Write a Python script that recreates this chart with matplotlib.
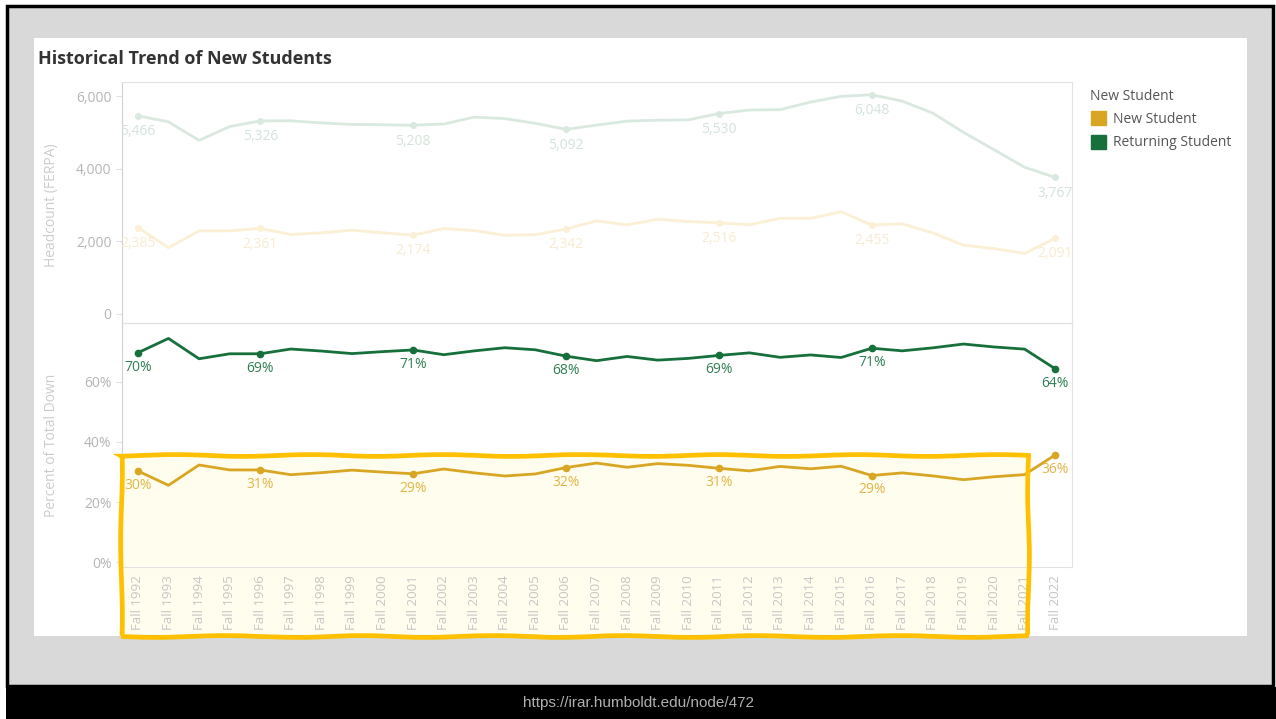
import numpy as np
import matplotlib.pyplot as plt
from matplotlib.patches import Rectangle, Patch

# dati
years = ['Fall %d' % y for y in range(1992, 2023)]
returning = [5466, 5300, 4790, 5170, 5326, 5330, 5270, 5230, 5220, 5208, 5240,
             5430, 5390, 5260, 5092, 5210, 5320, 5346, 5355, 5530, 5627, 5636,
             5846, 6004, 6048, 5873, 5539, 5013, 4531, 4048, 3767]
new = [2385, 1826, 2293, 2293, 2361, 2192, 2238, 2312, 2238, 2174, 2357,
       2300, 2171, 2190, 2342, 2567, 2459, 2612, 2549, 2516, 2459, 2639,
       2639, 2819, 2455, 2486, 2234, 1900, 1802, 1667, 2091]
label_idx = [0, 4, 9, 14, 19, 24, 30]

W, H = 1276, 719
GREEN = '#17703c'
GOLD = '#d8a623'
GREEN_FADE = '#d9e9e0'
GOLD_FADE = '#fbefd6'
AXIS_TXT = '#b5b5b5'

plt.rcParams['font.family'] = ['Open Sans', 'DejaVu Sans']

def fx(px):
    return px / W

def fy(py):
    return 1 - py / H

fig = plt.figure(figsize=(W / 100, H / 100), dpi=100, facecolor='#d9d9d9')

# cornice dello screenshot
fig.patches.append(Rectangle((0, 0), 1, 1, transform=fig.transFigure, fc='white', ec='none', zorder=-5))
fig.patches.append(Rectangle((fx(7), fy(686)), fx(1266), fy(6) - fy(686), transform=fig.transFigure,
                             fc='#d9d9d9', ec='black', lw=2.5, zorder=-4))
fig.patches.append(Rectangle((fx(6), 0), fx(1270), fy(687), transform=fig.transFigure, fc='black', ec='none', zorder=-4))
fig.patches.append(Rectangle((fx(34), fy(636)), fx(1213), fy(38) - fy(636), transform=fig.transFigure,
                             fc='white', ec='none', zorder=-3))
# evidenziatore giallo (riempimento)
hl_box = (fx(121), fy(636), fx(907), fy(455) - fy(636))
fig.patches.append(Rectangle(hl_box[:2], hl_box[2], hl_box[3], transform=fig.transFigure,
                             fc='#fffdee', ec='none', zorder=-2))

x = np.arange(len(years))
ret = np.array(returning, dtype=float)
nw = np.array(new, dtype=float)
tot = ret + nw
p_ret = ret / tot * 100
p_new = nw / tot * 100

ax1 = fig.add_axes([fx(122), fy(323), fx(950), fy(82) - fy(323)])
ax2 = fig.add_axes([fx(122), fy(567), fx(950), fy(323) - fy(567)], sharex=ax1)

for ax in (ax1, ax2):
    ax.set_facecolor('none')
    for s in ax.spines.values():
        s.set_color('#e2e2e2')
    ax.spines['left'].set_color('#d0d0d0')
    ax.tick_params(axis='y', colors=AXIS_TXT, labelsize=10, length=4, color='#e0e0e0')
    ax.set_xlim(-0.52, 30.55)

# pannello superiore: headcount (sbiadito)
ax1.plot(x, ret, color=GREEN_FADE, lw=2)
ax1.plot(x, nw, color=GOLD_FADE, lw=2)
ax1.plot(x[label_idx], ret[label_idx], 'o', color=GREEN_FADE, ms=4)
ax1.plot(x[label_idx], nw[label_idx], 'o', color=GOLD_FADE, ms=4)
for i in label_idx:
    ax1.annotate('{:,}'.format(int(ret[i])), (x[i], ret[i]), xytext=(0, -6), textcoords='offset points',
                 ha='center', va='top', color='#d3e3da', fontsize=10)
    ax1.annotate('{:,}'.format(int(nw[i])), (x[i], nw[i]), xytext=(0, -6), textcoords='offset points',
                 ha='center', va='top', color='#f7ebcf', fontsize=10)
ax1.set_ylim(-250, 6400)
ax1.set_yticks([0, 2000, 4000, 6000])
ax1.set_yticklabels(['0', '2,000', '4,000', '6,000'])
ax1.tick_params(axis='x', bottom=False, labelbottom=False)

# pannello inferiore: percentuale sul totale
ax2.plot(x, p_ret, color=GREEN, lw=2)
ax2.plot(x, p_new, color=GOLD, lw=2)
ax2.plot(x[label_idx], p_ret[label_idx], 'o', color=GREEN, ms=4.5)
ax2.plot(x[label_idx], p_new[label_idx], 'o', color=GOLD, ms=4.5)
for i in label_idx:
    ax2.annotate('%d%%' % round(p_ret[i]), (x[i], p_ret[i]), xytext=(0, -5), textcoords='offset points',
                 ha='center', va='top', color='#2f7f52', fontsize=10)
    ax2.annotate('%d%%' % round(p_new[i]), (x[i], p_new[i]), xytext=(0, -5), textcoords='offset points',
                 ha='center', va='top', color='#e2b548', fontsize=10)
ax2.set_ylim(-1.5, 79.5)
ax2.set_yticks([0, 20, 40, 60])
ax2.set_yticklabels(['0%', '20%', '40%', '60%'])
ax2.set_xticks(x)
ax2.set_xticklabels(years, rotation=90, fontsize=9.5, color='#c6c6c6')
ax2.tick_params(axis='x', length=0, pad=6)

fig.text(fx(52), fy(205), 'Headcount (FERPA)', rotation=90, ha='center', va='center',
         color='#cccccc', fontsize=10)
fig.text(fx(52), fy(445), 'Percent of Total Down', rotation=90, ha='center', va='center',
         color='#cccccc', fontsize=10)

fig.text(fx(38), fy(59), 'Historical Trend of New Students', ha='left', va='center',
         fontsize=13, fontweight='bold', color='#333333')

# legenda
handles = [Patch(color=GOLD), Patch(color=GREEN)]
fig.legend(handles, ['New Student', 'Returning Student'], title='New Student',
           loc='upper left', bbox_to_anchor=(fx(1078), fy(76)), frameon=False,
           alignment='left', handlelength=1.1, handleheight=1.2, handletextpad=0.5,
           labelspacing=0.55, fontsize=10, title_fontsize=10, labelcolor='#555555')
fig.legends[0].get_title().set_color('#555555')

# evidenziatore giallo (bordo)
outline = Rectangle(hl_box[:2], hl_box[2], hl_box[3], transform=fig.transFigure,
                    fc='none', ec='#ffc000', lw=3.4, zorder=10)
outline.set_sketch_params(scale=0.9, length=150, randomness=2)
fig.patches.append(outline)

fig.text(0.5, fy(703), 'https://irar.humboldt.edu/node/472', ha='center', va='center',
         color='#b0b0b0', fontsize=11, family=['Liberation Sans Narrow', 'Liberation Sans'])

plt.savefig('out.png', dpi=100, facecolor=fig.get_facecolor())
